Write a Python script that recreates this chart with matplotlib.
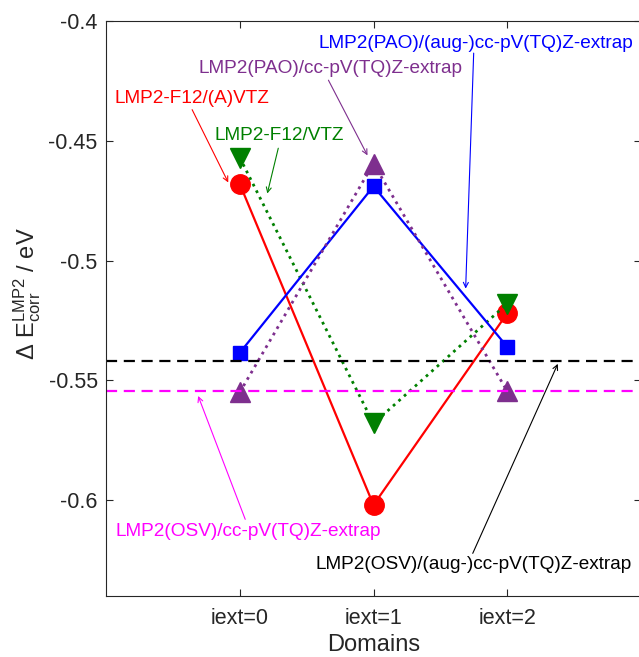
import numpy as np
import matplotlib
matplotlib.use('Agg')
import matplotlib.pyplot as plt

plt.rcParams['font.family'] = ['Liberation Sans', 'DejaVu Sans']
plt.rcParams['mathtext.fontset'] = 'custom'
plt.rcParams['mathtext.rm'] = 'Liberation Sans'
plt.rcParams['mathtext.it'] = 'Liberation Sans'

# data
domains = ['iext=0', 'iext=1', 'iext=2']
f12_avtz = [-0.468, -0.602, -0.522]
f12_vtz = [-0.457, -0.568, -0.518]
pao_aug = [-0.5385, -0.469, -0.536]
pao_cc = [-0.555, -0.4595, -0.5545]
osv_aug = -0.542
osv_cc = -0.5545

ax_col = '#262626'
purple = '#7E2F8E'
green = '#008000'

fig = plt.figure(figsize=(6.39, 6.57), dpi=100)
w = 535 / 639.0
ax = fig.add_axes([106 / 639.0, 1 - 596 / 657.0, w, (596 - 21) / 657.0])

x = np.arange(1, len(domains) + 1)
ax.plot(x, f12_avtz, '-', color='red', lw=1.6, marker='o', ms=14)
ax.plot(x, f12_vtz, ':', color=green, lw=2.0, marker='v', ms=14)
ax.plot(x, pao_aug, '-', color='blue', lw=1.6, marker='s', ms=9.5)
ax.plot(x, pao_cc, ':', color=purple, lw=2.0, marker='^', ms=14)
ax.axhline(osv_aug, color='black', ls=(0, (5, 3)), lw=1.6)
ax.axhline(osv_cc, color='magenta', ls=(0, (5, 3)), lw=1.6)

ax.set_xlim(0, 4)
ax.set_ylim(-0.64, -0.4)
ax.set_xticks(x)
ax.set_xticklabels(domains)
ax.set_yticks([-0.6, -0.55, -0.5, -0.45, -0.4])
ax.set_yticklabels(['-0.6', '-0.55', '-0.5', '-0.45', '-0.4'])
ax.tick_params(direction='in', length=5, width=0.8, top=True, right=True,
               labelsize=15.5, colors=ax_col, pad=6)
ax.tick_params(axis='x', pad=9)
for s in ax.spines.values():
    s.set_color(ax_col)
    s.set_linewidth(0.8)

ax.set_xlabel('Domains', fontsize=17, color=ax_col, labelpad=3)
ax.set_ylabel(r'$\Delta\ \mathrm{E}_{\mathrm{corr}}^{\mathrm{LMP2}}$ / eV',
              fontsize=17, color=ax_col)
ax.yaxis.set_label_coords(-0.118, 0.525)

fs = 13.7
labels = [
    ('LMP2-F12/(A)VTZ', 'red', (0.644, -0.4322), (0.644, -0.437), (0.914, -0.4674)),
    ('LMP2-F12/VTZ', green, (1.296, -0.4477), (1.288, -0.4531), (1.206, -0.472)),
    ('LMP2(PAO)/cc-pV(TQ)Z-extrap', purple, (1.678, -0.4197), (1.663, -0.4247), (1.955, -0.4561)),
    ('LMP2(PAO)/(aug-)cc-pV(TQ)Z-extrap', 'blue', (2.764, -0.4092), (2.749, -0.4134), (2.689, -0.5117)),
    ('LMP2(OSV)/cc-pV(TQ)Z-extrap', 'magenta', (1.064, -0.613), (1.041, -0.608), (0.689, -0.5565)),
    ('LMP2(OSV)/(aug-)cc-pV(TQ)Z-extrap', 'black', (2.749, -0.6268), (2.742, -0.6222), (3.378, -0.5431)),
]
for txt, c, tpos, a0, a1 in labels:
    ax.text(tpos[0], tpos[1], txt, color=c, fontsize=fs, ha='center', va='center')
    ax.annotate('', xy=a1, xytext=a0,
                arrowprops=dict(arrowstyle='->', color=c, lw=0.8,
                                mutation_scale=9, shrinkA=0, shrinkB=0))

fig.savefig('out.png', dpi=100)
